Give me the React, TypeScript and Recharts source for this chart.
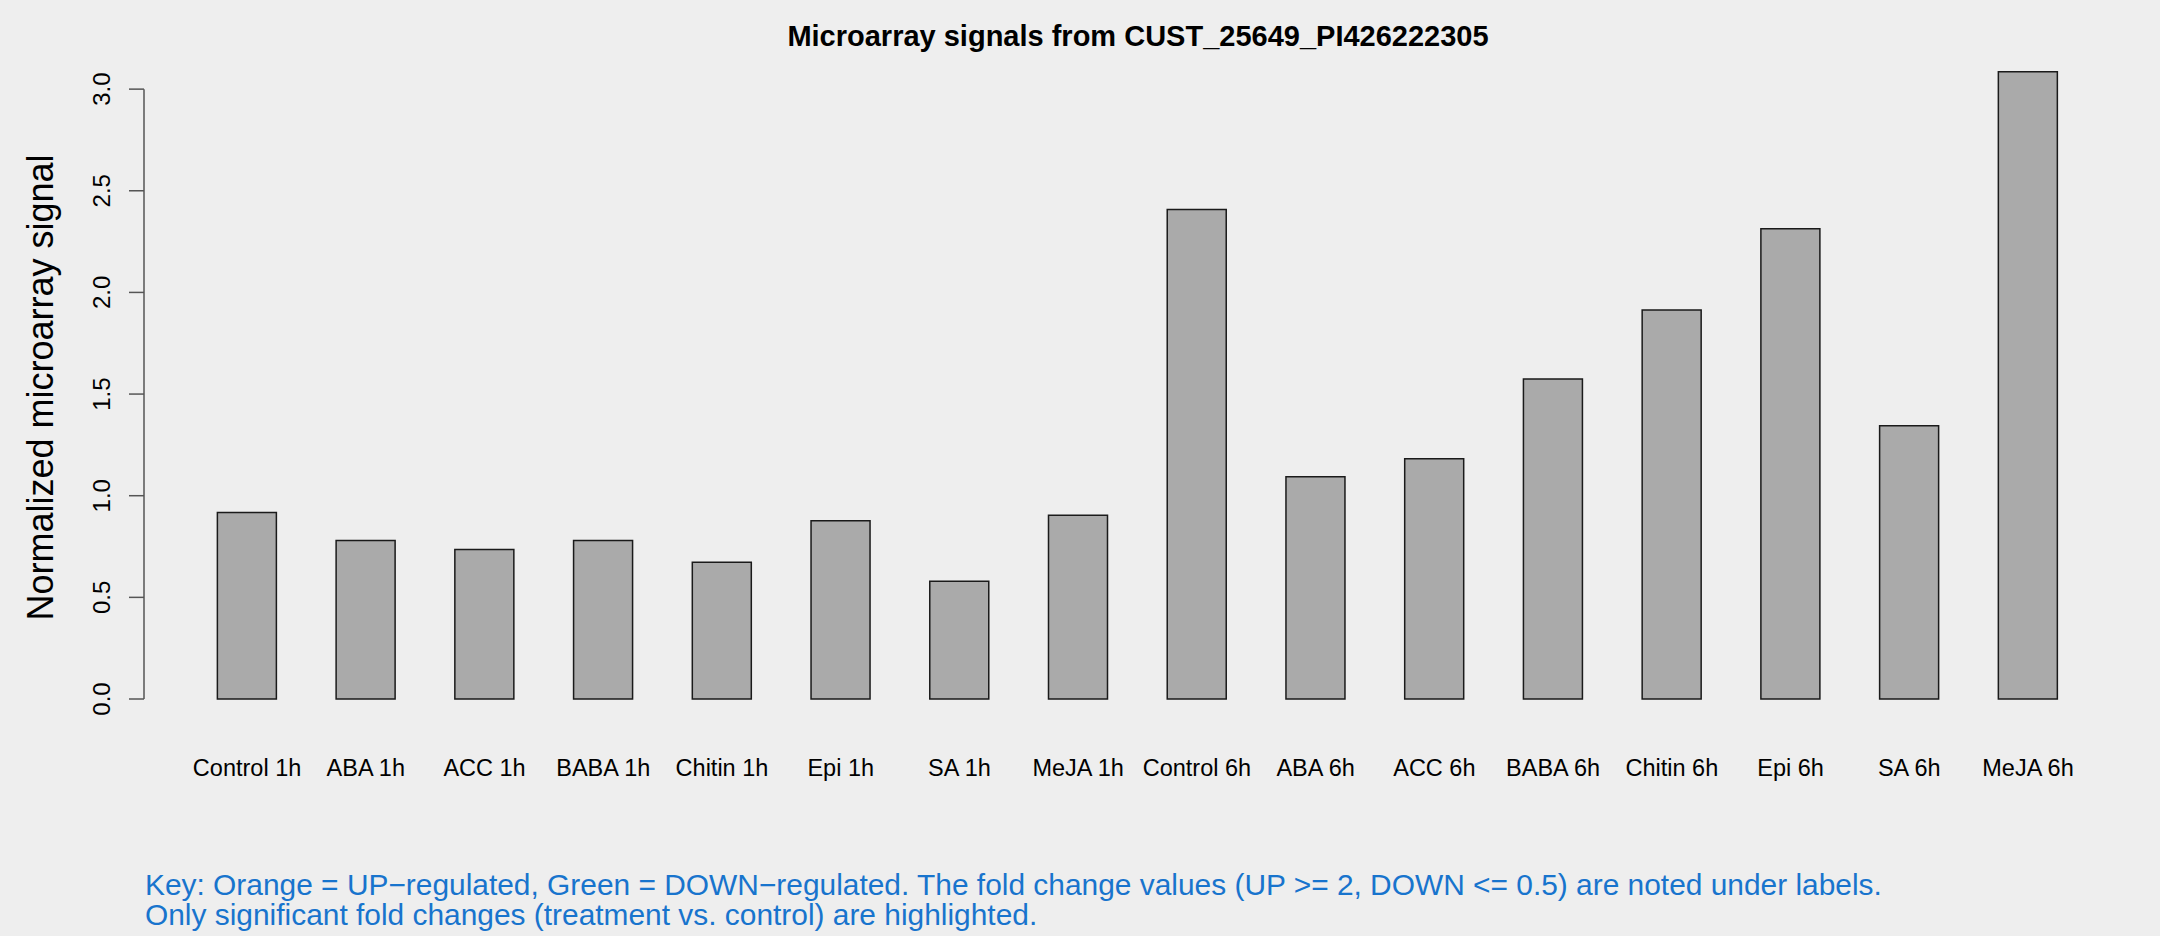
import { Bar, BarChart, XAxis, YAxis } from "recharts";

const categories = [
  "Control 1h",
  "ABA 1h",
  "ACC 1h",
  "BABA 1h",
  "Chitin 1h",
  "Epi 1h",
  "SA 1h",
  "MeJA 1h",
  "Control 6h",
  "ABA 6h",
  "ACC 6h",
  "BABA 6h",
  "Chitin 6h",
  "Epi 6h",
  "SA 6h",
  "MeJA 6h",
];
const signals = [
  0.917, 0.78, 0.735, 0.78, 0.673, 0.877, 0.579, 0.904, 2.408, 1.093, 1.182,
  1.574, 1.913, 2.313, 1.344, 3.086,
];
const yTicks = [0, 0.5, 1.0, 1.5, 2.0, 2.5, 3.0];
const title = "Microarray signals from CUST_25649_PI426222305";
const yLabel = "Normalized microarray signal";
const keyLines = [
  "Key: Orange = UP\u2212regulated, Green = DOWN\u2212regulated. The fold change values (UP >= 2, DOWN <= 0.5) are noted under labels.",
  "Only significant fold changes (treatment vs. control) are highlighted.",
];

const data = categories.map((name, i) => ({ name, signal: signals[i] }));

const W = 2160;
const H = 936;
const PLOT_LEFT = 144;
const PLOT_TOP = 68.8;
const X_AXIS_H = 237;
const Y_MAX = 3.1;
const PLOT_H = H - X_AXIS_H - PLOT_TOP;
const AXIS_SPAN = (yTicks[yTicks.length - 1] / Y_MAX) * PLOT_H;
const FONT = "'Liberation Sans', Arial, Helvetica, sans-serif";

function XTick({ x, y, payload }: any) {
  return (
    <text
      x={x}
      y={y + 76.7}
      textAnchor="middle"
      fontSize={23.5}
      fontFamily={FONT}
      fill="#000"
    >
      {payload.value}
    </text>
  );
}

function YTick({ y, payload }: any) {
  const v = payload.value;
  return (
    <g>
      {v === 0 && (
        <line
          x1={PLOT_LEFT}
          x2={PLOT_LEFT}
          y1={y}
          y2={y - AXIS_SPAN}
          stroke="#555"
          strokeWidth={1.5}
        />
      )}
      <line
        x1={PLOT_LEFT - 15}
        x2={PLOT_LEFT}
        y1={y}
        y2={y}
        stroke="#555"
        strokeWidth={1.5}
      />
      <text
        transform={`translate(110,${y}) rotate(-90)`}
        textAnchor="middle"
        fontSize={24}
        fontFamily={FONT}
        fill="#000"
      >
        {v.toFixed(1)}
      </text>
    </g>
  );
}

export default function App() {
  return (
    <div
      style={{
        position: "absolute",
        left: 0,
        top: 0,
        width: W,
        height: H,
        background: "#eeeeee",
      }}
    >
      <BarChart
        width={W}
        height={H}
        data={data}
        margin={{ top: PLOT_TOP, right: 72.6, bottom: 0, left: 0 }}
        barCategoryGap="25%"
      >
        <XAxis
          dataKey="name"
          interval={0}
          axisLine={false}
          tickLine={false}
          tickSize={0}
          tickMargin={0}
          height={X_AXIS_H}
          padding={{ left: 43.7, right: 0 }}
          tick={<XTick />}
        />
        <YAxis
          type="number"
          domain={[0, Y_MAX]}
          ticks={yTicks}
          interval={0}
          width={PLOT_LEFT}
          axisLine={false}
          tickLine={false}
          tick={<YTick />}
        />
        <Bar
          dataKey="signal"
          fill="#aaaaaa"
          stroke="#1a1a1a"
          strokeWidth={1.5}
          isAnimationActive={false}
        />
      </BarChart>
      <svg
        width={W}
        height={H}
        style={{ position: "absolute", left: 0, top: 0, pointerEvents: "none" }}
      >
        <text
          x={1138}
          y={46}
          textAnchor="middle"
          fontSize={29}
          fontWeight="bold"
          fontFamily={FONT}
          fill="#000"
        >
          {title}
        </text>
        <text
          transform="translate(52.7,387.5) rotate(-90)"
          textAnchor="middle"
          fontSize={36}
          fontFamily={FONT}
          fill="#000"
        >
          {yLabel}
        </text>
        {keyLines.map((line, i) => (
          <text
            key={i}
            x={145}
            y={894.8 + i * 30}
            fontSize={29.9}
            fontFamily={FONT}
            fill="#1874cd"
          >
            {line}
          </text>
        ))}
      </svg>
    </div>
  );
}
